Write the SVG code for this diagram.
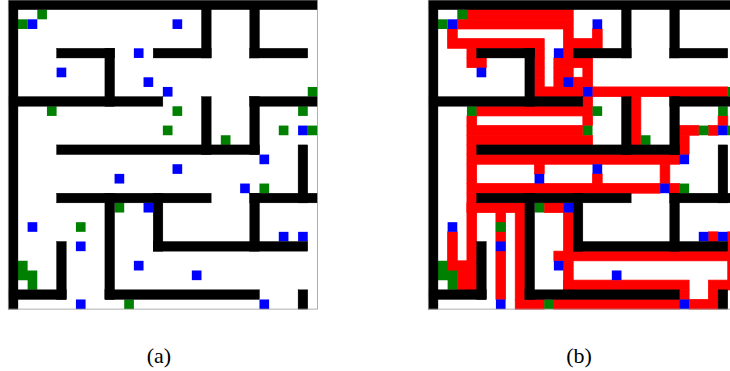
<svg xmlns="http://www.w3.org/2000/svg" xmlns:xlink="http://www.w3.org/1999/xlink" width="730" height="371" viewBox="0 0 730 371">
<style>
.w{fill:#000;stroke:#000;stroke-width:0.04}
.g{fill:#008000}
.b{fill:#0000ff}
.r{fill:#ff0000;stroke:#ff0000;stroke-width:0.08}
.lbl{font-family:"Liberation Serif","Times New Roman",serif;font-size:22px;fill:#000;text-anchor:middle}
.frame{fill:none;stroke:#9a9a9a;stroke-width:0.8}
</style>
<defs>
<g id="walls" class="w">
<rect x="0" y="0" width="32" height="1"/>
<rect x="0" y="0" width="1" height="32"/>
<rect x="5" y="5" width="6" height="1"/>
<rect x="10" y="5" width="1" height="6"/>
<rect x="0" y="10" width="16" height="1"/>
<rect x="20" y="0" width="1" height="6"/>
<rect x="15" y="5" width="6" height="1"/>
<rect x="25" y="0" width="1" height="6"/>
<rect x="25" y="5" width="6" height="1"/>
<rect x="20" y="10" width="1" height="6"/>
<rect x="25" y="10" width="7" height="1"/>
<rect x="25" y="10" width="1" height="6"/>
<rect x="5" y="15" width="21" height="1"/>
<rect x="30" y="15" width="1" height="6"/>
<rect x="25" y="20" width="7" height="1"/>
<rect x="5" y="20" width="16" height="1"/>
<rect x="10" y="20" width="1" height="11"/>
<rect x="10" y="30" width="16" height="1"/>
<rect x="15" y="20" width="1" height="6"/>
<rect x="15" y="25" width="16" height="1"/>
<rect x="25" y="20" width="1" height="6"/>
<rect x="5" y="25" width="1" height="6"/>
<rect x="0" y="30" width="6" height="1"/>
<rect x="30" y="30" width="1" height="2"/>
</g>
<g id="marks">
<g class="g">
<rect x="3" y="1" width="1" height="1"/>
<rect x="1" y="2" width="1" height="1"/>
<rect x="4" y="11" width="1" height="1"/>
<rect x="16" y="13" width="1" height="1"/>
<rect x="17" y="11" width="1" height="1"/>
<rect x="22" y="14" width="1" height="1"/>
<rect x="31" y="9" width="1" height="1"/>
<rect x="30" y="11" width="1" height="1"/>
<rect x="28" y="13" width="1" height="1"/>
<rect x="31" y="13" width="1" height="1"/>
<rect x="26" y="19" width="1" height="1"/>
<rect x="11" y="21" width="1" height="1"/>
<rect x="7" y="23" width="1" height="1"/>
<path d="M1 27h1v1h1v2h-1v-1h-1z"/>
<rect x="12" y="31" width="1" height="1"/>
</g>
<g class="b">
<rect x="2" y="2" width="1" height="1"/>
<rect x="17" y="2" width="1" height="1"/>
<rect x="13" y="5" width="1" height="1"/>
<rect x="5" y="7" width="1" height="1"/>
<rect x="14" y="8" width="1" height="1"/>
<rect x="16" y="9" width="1" height="1"/>
<rect x="30" y="13" width="1" height="1"/>
<rect x="26" y="16" width="1" height="1"/>
<rect x="17" y="17" width="1" height="1"/>
<rect x="11" y="18" width="1" height="1"/>
<rect x="24" y="19" width="1" height="1"/>
<rect x="14" y="21" width="1" height="1"/>
<rect x="2" y="23" width="1" height="1"/>
<rect x="28" y="24" width="1" height="1"/>
<rect x="30" y="24" width="1" height="1"/>
<rect x="7" y="25" width="1" height="1"/>
<rect x="13" y="27" width="1" height="1"/>
<rect x="19" y="28" width="1" height="1"/>
<rect x="7" y="31" width="1" height="1"/>
<rect x="26" y="31" width="1" height="1"/>
</g>
</g>
</defs>
<rect width="730" height="371" fill="#fff"/>
<g id="maze-a">
<g transform="translate(8.3 0) scale(9.66)">
<use xlink:href="#marks" href="#marks"/>
<use xlink:href="#walls" href="#walls"/>
</g>
<rect class="frame" x="8.3" y="0" width="309.1" height="309.1"/>
</g>
<g id="maze-b">
<g transform="translate(428.3 0) scale(9.66)">
<g id="path" class="r">
<rect x="4" y="1" width="11" height="1"/>
<rect x="3" y="2" width="12" height="1"/>
<rect x="2" y="3" width="1" height="1"/>
<rect x="14" y="3" width="1" height="1"/>
<rect x="17" y="3" width="1" height="1"/>
<rect x="2" y="4" width="10" height="1"/>
<rect x="14" y="4" width="4" height="1"/>
<rect x="4" y="5" width="1" height="1"/>
<rect x="11" y="5" width="1" height="1"/>
<rect x="14" y="5" width="1" height="1"/>
<rect x="4" y="6" width="2" height="1"/>
<rect x="11" y="6" width="1" height="1"/>
<rect x="13" y="6" width="4" height="1"/>
<rect x="11" y="7" width="1" height="1"/>
<rect x="13" y="7" width="2" height="1"/>
<rect x="16" y="7" width="1" height="1"/>
<rect x="11" y="8" width="1" height="1"/>
<rect x="13" y="8" width="4" height="1"/>
<rect x="11" y="9" width="5" height="1"/>
<rect x="17" y="9" width="14" height="1"/>
<rect x="16" y="10" width="1" height="1"/>
<rect x="21" y="10" width="1" height="5"/>
<rect x="5" y="11" width="12" height="1"/>
<rect x="4" y="12" width="1" height="1"/>
<rect x="16" y="12" width="1" height="1"/>
<rect x="30" y="12" width="1" height="1"/>
<rect x="4" y="13" width="12" height="1"/>
<rect x="26" y="13" width="2" height="1"/>
<rect x="29" y="13" width="1" height="1"/>
<rect x="4" y="14" width="13" height="1"/>
<rect x="26" y="14" width="1" height="2"/>
<rect x="4" y="15" width="1" height="1"/>
<rect x="4" y="16" width="22" height="1"/>
<rect x="4" y="17" width="1" height="2"/>
<rect x="11" y="17" width="1" height="1"/>
<rect x="24" y="17" width="1" height="2"/>
<rect x="17" y="18" width="1" height="1"/>
<rect x="4" y="19" width="20" height="1"/>
<rect x="25" y="19" width="1" height="1"/>
<rect x="4" y="20" width="1" height="10"/>
<rect x="4" y="21" width="6" height="1"/>
<rect x="12" y="21" width="2" height="1"/>
<rect x="7" y="22" width="1" height="9"/>
<rect x="9" y="22" width="1" height="9"/>
<rect x="14" y="22" width="1" height="8"/>
<rect x="2" y="24" width="1" height="4"/>
<rect x="29" y="24" width="1" height="1"/>
<rect x="31" y="24" width="1" height="6"/>
<rect x="13" y="26" width="19" height="1"/>
<rect x="2" y="27" width="3" height="1"/>
<rect x="3" y="28" width="2" height="2"/>
<rect x="14" y="29" width="13" height="1"/>
<rect x="29" y="29" width="3" height="1"/>
<rect x="26" y="30" width="1" height="1"/>
<rect x="29" y="30" width="1" height="1"/>
<rect x="9" y="31" width="3" height="1"/>
<rect x="13" y="31" width="13" height="1"/>
<rect x="27" y="31" width="3" height="1"/>
</g>
<use xlink:href="#marks" href="#marks"/>
<use xlink:href="#walls" href="#walls"/>
</g>
<rect class="frame" x="428.3" y="0" width="309.1" height="309.1"/>
</g>
<text class="lbl" x="159" y="363">(a)</text>
<text class="lbl" x="579" y="363">(b)</text>
</svg>
